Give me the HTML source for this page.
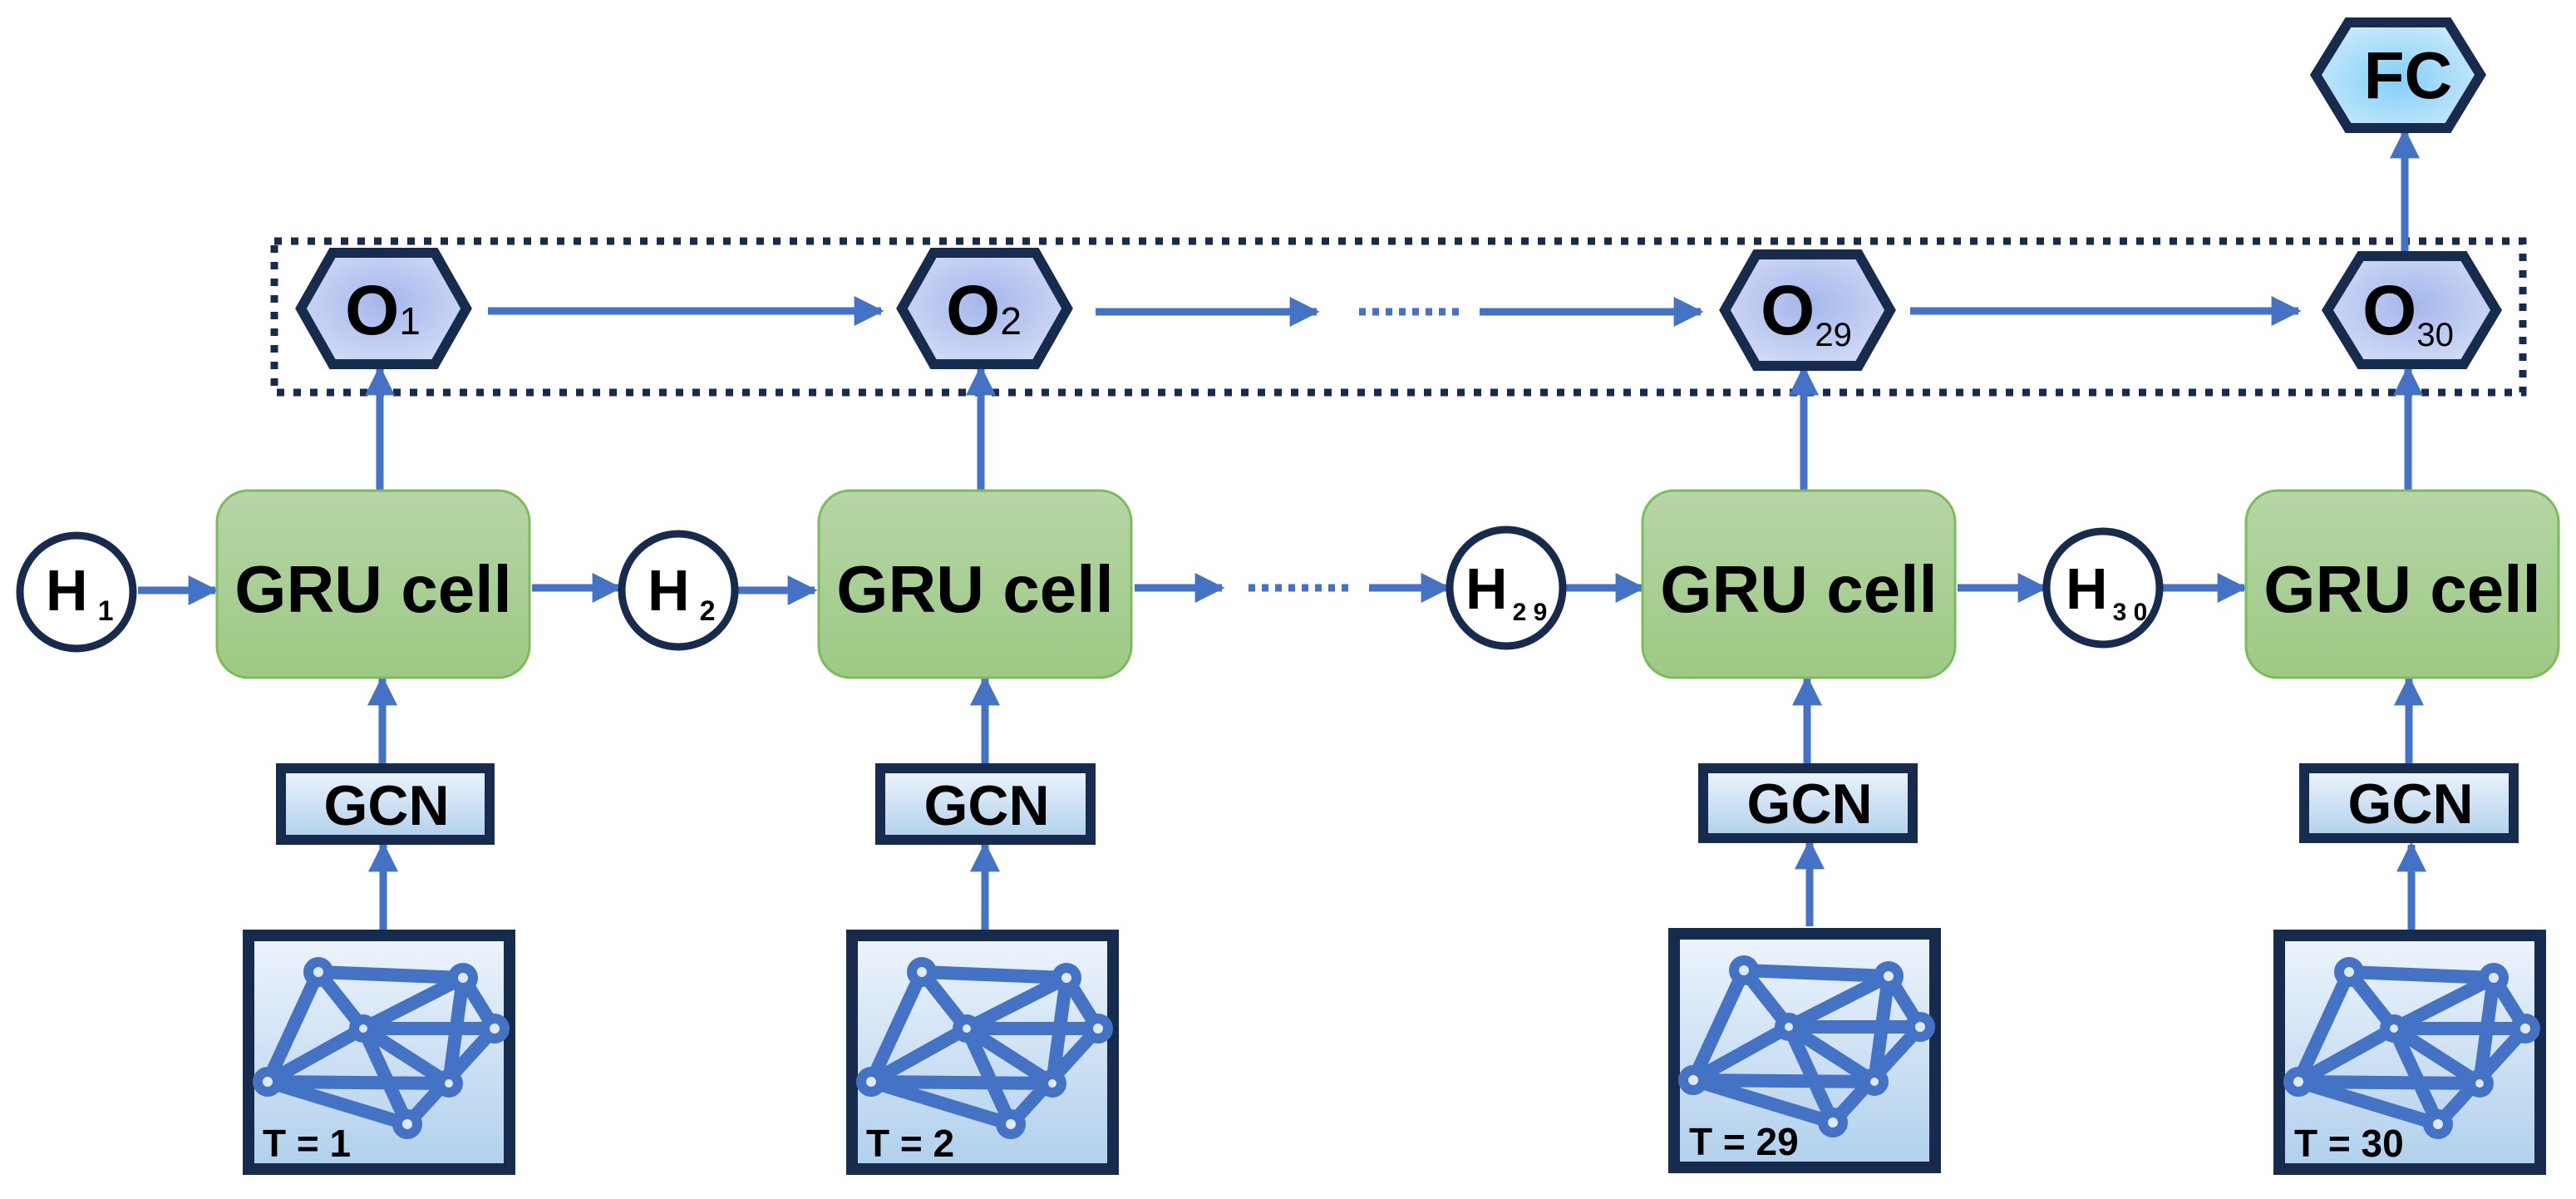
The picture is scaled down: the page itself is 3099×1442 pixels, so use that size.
<!DOCTYPE html>
<html><head><meta charset="utf-8"><style>
html,body{margin:0;padding:0;background:#fff;}
svg{display:block;}
text{font-family:"Liberation Sans Narrow","Liberation Sans",sans-serif;font-weight:bold;fill:#000;}
</style></head><body>
<svg width="3099" height="1442" viewBox="0 0 3099 1442" xmlns="http://www.w3.org/2000/svg">
<defs>
<marker id="ah" viewBox="0 0 10 10" refX="9" refY="5" markerWidth="4" markerHeight="4" orient="auto" markerUnits="strokeWidth">
<path d="M0,0 L10,5 L0,10 Z" fill="#4472C4"/></marker>
<linearGradient id="gru" x1="0" y1="0" x2="0" y2="1"><stop offset="0" stop-color="#b6d6a6"/><stop offset="1" stop-color="#9dc984"/></linearGradient>
<radialGradient id="ohex" cx="0.5" cy="0.45" r="0.6"><stop offset="0" stop-color="#a4b6ec"/><stop offset="1" stop-color="#d2dcf6"/></radialGradient>
<radialGradient id="fc" cx="0.5" cy="0.55" r="0.6"><stop offset="0" stop-color="#84d0f8"/><stop offset="1" stop-color="#cce9fc"/></radialGradient>
<linearGradient id="bl" x1="0" y1="0" x2="0" y2="1"><stop offset="0" stop-color="#eef4fc"/><stop offset="1" stop-color="#b0d0ec"/></linearGradient>
<g id="graph">
<rect x="7" y="7" width="314" height="281" fill="url(#bl)" stroke="#172B4F" stroke-width="14"/>
<g stroke="#4472C4" stroke-width="16" fill="none" stroke-linecap="round">
<path d="M91,51 L265,58 M91,51 L145,119 M91,51 L30,183 M265,58 L145,119 M265,58 L248,185 M265,58 L303,119 M145,119 L303,119 M145,119 L30,183 M145,119 L248,185 M145,119 L198,234 M30,183 L248,185 M30,183 L198,234 M303,119 L198,234"/>
</g>
<g fill="#dfe9f7" stroke="#4472C4" stroke-width="12">
<circle cx="91" cy="51" r="12"/><circle cx="265" cy="58" r="12"/><circle cx="145" cy="119" r="11"/><circle cx="303" cy="119" r="12"/><circle cx="30" cy="183" r="12"/><circle cx="248" cy="185" r="11"/><circle cx="198" cy="234" r="12"/>
</g>
</g>
</defs>

<rect x="330" y="290" width="2705" height="182" fill="none" stroke="#172B4F" stroke-width="9" stroke-dasharray="9,11"/>

<g stroke="#4472C4" stroke-width="9" fill="none">
<line x1="587" y1="374" x2="1060" y2="374" marker-end="url(#ah)"/>
<line x1="1318" y1="375" x2="1584" y2="375" marker-end="url(#ah)"/>
<line x1="1635" y1="375" x2="1756" y2="375" stroke-dasharray="8,8"/>
<line x1="1780" y1="375" x2="2046" y2="375" marker-end="url(#ah)"/>
<line x1="2298" y1="374" x2="2765" y2="374" marker-end="url(#ah)"/>
<line x1="166" y1="710" x2="259" y2="710" marker-end="url(#ah)"/>
<line x1="640" y1="707" x2="745" y2="707" marker-end="url(#ah)"/>
<line x1="885" y1="710" x2="980" y2="710" marker-end="url(#ah)"/>
<line x1="1365" y1="707" x2="1470" y2="707" marker-end="url(#ah)"/>
<line x1="1502" y1="707" x2="1622" y2="707" stroke-dasharray="8,8"/>
<line x1="1647" y1="707" x2="1742" y2="707" marker-end="url(#ah)"/>
<line x1="1882" y1="707" x2="1976" y2="707" marker-end="url(#ah)"/>
<line x1="2355" y1="707" x2="2460" y2="707" marker-end="url(#ah)"/>
<line x1="2600" y1="707" x2="2700" y2="707" marker-end="url(#ah)"/>
<line x1="457" y1="589" x2="457" y2="443" marker-end="url(#ah)"/>
<line x1="1180" y1="589" x2="1180" y2="443" marker-end="url(#ah)"/>
<line x1="2170" y1="589" x2="2170" y2="443" marker-end="url(#ah)"/>
<line x1="2897" y1="589" x2="2897" y2="443" marker-end="url(#ah)"/>
<line x1="2893" y1="307" x2="2893" y2="158" marker-end="url(#ah)"/>
<line x1="460" y1="918" x2="460" y2="816" marker-end="url(#ah)"/>
<line x1="1185" y1="918" x2="1185" y2="816" marker-end="url(#ah)"/>
<line x1="2174" y1="918" x2="2174" y2="816" marker-end="url(#ah)"/>
<line x1="2898" y1="918" x2="2898" y2="816" marker-end="url(#ah)"/>
<line x1="461" y1="1118" x2="461" y2="1016" marker-end="url(#ah)"/>
<line x1="1185" y1="1118" x2="1185" y2="1016" marker-end="url(#ah)"/>
<line x1="2177" y1="1114" x2="2177" y2="1013" marker-end="url(#ah)"/>
<line x1="2901" y1="1118" x2="2901" y2="1016" marker-end="url(#ah)"/>
</g>

<g stroke="#172B4F" stroke-width="12" fill="url(#ohex)">
<polygon points="362,371 400,304 523,304 561,371 523,438 400,438"/>
<polygon points="1085,371 1123,304 1246,304 1284,371 1246,438 1123,438"/>
<polygon points="2075,373 2113,306 2236,306 2274,373 2236,440 2113,440"/>
<polygon points="2800,373 2840,308 2964,308 3003,373 2964,438 2840,438"/>
</g>
<polygon points="2786,90 2825,27 2945,27 2984,90 2945,154 2825,154" fill="url(#fc)" stroke="#172B4F" stroke-width="12"/>
<text x="2897" y="118" font-size="80" text-anchor="middle">FC</text>

<g font-size="84">
<text x="415" y="402">O<tspan font-size="46" font-weight="normal">1</tspan></text>
<text x="1138" y="402">O<tspan font-size="46" font-weight="normal">2</tspan></text>
<text x="2118" y="402">O<tspan font-size="40" font-weight="normal" dy="14">29</tspan></text>
<text x="2842" y="402">O<tspan font-size="40" font-weight="normal" dy="14">30</tspan></text>
</g>

<g fill="url(#gru)" stroke="#7cbb5a" stroke-width="3">
<rect x="261" y="590" width="376" height="225" rx="38"/>
<rect x="985" y="590" width="376" height="225" rx="38"/>
<rect x="1976" y="590" width="376" height="225" rx="38"/>
<rect x="2702" y="590" width="376" height="225" rx="38"/>
</g>
<g font-size="80" text-anchor="middle">
<text x="449" y="736">GRU cell</text>
<text x="1173" y="736">GRU cell</text>
<text x="2164" y="736">GRU cell</text>
<text x="2890" y="736">GRU cell</text>
</g>

<g fill="#fff" stroke="#172B4F" stroke-width="9">
<ellipse cx="92" cy="712" rx="68" ry="68"/>
<ellipse cx="816" cy="710" rx="68" ry="68"/>
<ellipse cx="1812" cy="707" rx="68" ry="70"/>
<ellipse cx="2530" cy="707" rx="68" ry="68"/>
</g>
<g font-size="70">
<text x="55" y="734" font-weight="normal">H<tspan font-size="34" dx="12" dy="12">1</tspan></text>
<text x="779" y="734" font-weight="normal">H<tspan font-size="34" dx="12" dy="12">2</tspan></text>
<text x="1763" y="732" font-weight="normal">H<tspan font-size="30" dx="6" dy="14">2 9</tspan></text>
<text x="2485" y="732" font-weight="normal">H<tspan font-size="30" dx="6" dy="14">3 0</tspan></text>
</g>

<g fill="url(#bl)" stroke="#172B4F" stroke-width="12">
<rect x="338" y="924" width="251" height="86"/>
<rect x="1059" y="924" width="253" height="86"/>
<rect x="2049" y="924" width="252" height="84"/>
<rect x="2772" y="924" width="252" height="84"/>
</g>
<g font-size="68" text-anchor="middle">
<text x="465" y="992">GCN</text>
<text x="1187" y="992">GCN</text>
<text x="2177" y="990">GCN</text>
<text x="2900" y="990">GCN</text>
</g>

<use href="#graph" x="292" y="1118"/>
<use href="#graph" x="1018" y="1118"/>
<use href="#graph" x="2007" y="1116"/>
<use href="#graph" x="2735" y="1118"/>
<g font-size="46">
<text x="316" y="1391">T = 1</text>
<text x="1042" y="1391">T = 2</text>
<text x="2032" y="1389">T = 29</text>
<text x="2760" y="1391">T = 30</text>
</g>
</svg>
</body></html>
